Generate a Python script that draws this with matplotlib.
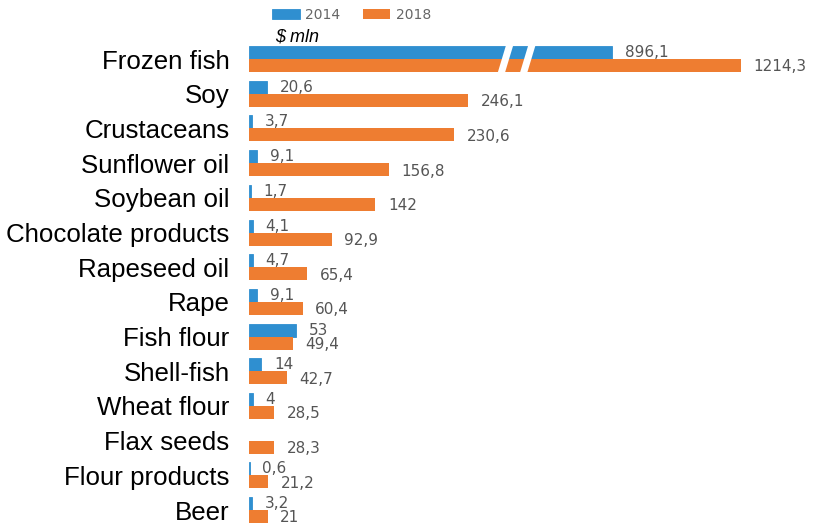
import numpy as np
import matplotlib.pyplot as plt

plt.rcParams['font.family'] = ['Liberation Sans', 'DejaVu Sans']

categories = ["Frozen fish", "Soy", "Crustaceans", "Sunflower oil", "Soybean oil",
              "Chocolate products", "Rapeseed oil", "Rape", "Fish flour", "Shell-fish",
              "Wheat flour", "Flax seeds", "Flour products", "Beer"]
values_2014 = [896.1, 20.6, 3.7, 9.1, 1.7, 4.1, 4.7, 9.1, 53, 14, 4, np.nan, 0.6, 3.2]
values_2018 = [1214.3, 246.1, 230.6, 156.8, 142, 92.9, 65.4, 60.4, 49.4, 42.7, 28.5, 28.3, 21.2, 21]
years = ["2014", "2018"]

blue = '#2f8fd0'
orange = '#ee7d31'
text_grey = '#555555'

# first row (frozen fish) is drawn on a compressed scale with a break mark
big_scale = 0.455
break_at = [288, 313]


def shown(values):
    vals = np.nan_to_num(np.array(values, dtype=float))
    vals[0] = vals[0] * big_scale
    return vals


def fmt(v):
    return f"{v:g}".replace('.', ',')


fig = plt.figure(figsize=(8.18, 5.26), dpi=100)
ax = fig.add_axes([249 / 818, 0, 569 / 818, 486 / 526])

y = np.arange(len(categories))
h = 0.375
bars_a = ax.barh(y - h / 2, shown(values_2014), height=h, color=blue,
                 edgecolor=blue, linewidth=0.6, label=years[0])
bars_b = ax.barh(y + h / 2, shown(values_2018), height=h, color=orange,
                 label=years[1])

for bars, vals, dy in [(bars_a, values_2014, 0), (bars_b, values_2018, -1)]:
    for bar, v in zip(bars, vals):
        if np.isnan(v):
            bar.set_visible(False)
            continue
        ax.annotate(fmt(v), xy=(bar.get_width(), bar.get_y() + bar.get_height() / 2),
                    xytext=(9, dy), textcoords='offset points', va='center',
                    ha='left', fontsize=11, color=text_grey, family='DejaVu Sans')

# break mark across the first row
for xb in break_at:
    ax.plot([xb + 5, xb - 5], [-h - 0.05, h + 0.05], color='white', lw=5,
            solid_capstyle='butt')

ax.set_yticks(y, categories, fontsize=18.6)
ax.tick_params(axis='y', length=0, pad=14)
ax.set_xticks([])
ax.set_xlim(0, 639)
ax.set_ylim(13.46, -0.55)
for s in ax.spines.values():
    s.set_visible(False)

fig.text(275 / 818, 1 - 37 / 526, r"\$ mln", style='italic', fontsize=13, va='center')

ax.legend(handles=[bars_a, bars_b], loc='upper left',
          bbox_to_anchor=(272 / 818, 1 - 8 / 526), bbox_transform=fig.transFigure,
          ncol=2, frameon=False, handlelength=2.0, handleheight=0.65,
          handletextpad=0.4, columnspacing=1.6, borderpad=0, borderaxespad=0,
          labelcolor='#666666', prop={'family': 'DejaVu Sans', 'size': 10})

fig.savefig('out.png', dpi=100)
